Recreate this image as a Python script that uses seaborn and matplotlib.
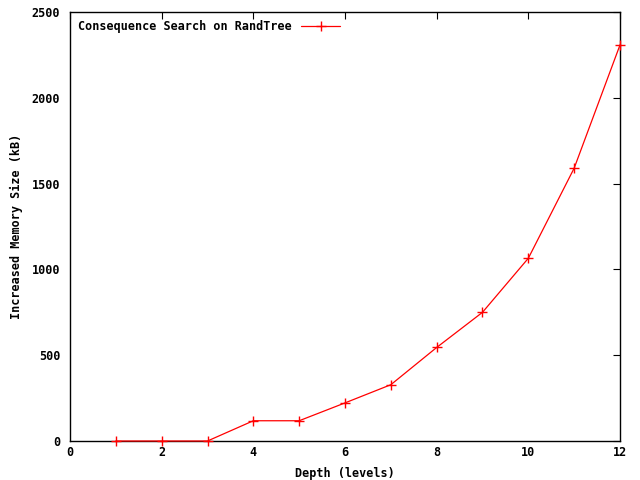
import matplotlib
matplotlib.use("Agg")
import matplotlib.pyplot as plt
import seaborn as sns
import pandas as pd

depth = [1, 2, 3, 4, 5, 6, 7, 8, 9, 10, 11, 12]
memory = [0, 0, 0, 118, 118, 222, 328, 545, 750, 1065, 1590, 2308]
series_label = "Consequence Search on RandTree"
x_ticks = [0, 2, 4, 6, 8, 10, 12]
y_ticks = [0, 500, 1000, 1500, 2000, 2500]

sns.set_style("white")
plt.rcParams['font.family'] = ['DejaVu Sans Mono']
plt.rcParams['font.weight'] = 'bold'
plt.rcParams['text.color'] = 'black'
plt.rcParams['axes.labelcolor'] = 'black'

df = pd.DataFrame({"depth": depth, "memory": memory})

fig = plt.figure(figsize=(6.4, 4.8), dpi=100)
ax = fig.add_axes([70/640, 39/480, 550/640, 429/480])
sns.lineplot(data=df, x="depth", y="memory", ax=ax, color="red", lw=0.9,
             marker="+", markersize=6.5, markeredgewidth=1.0,
             markeredgecolor="red", markerfacecolor="red",
             label=series_label, clip_on=False, zorder=5)

ax.set_xlim(0, 12)
ax.set_ylim(0, 2500)
ax.set_xticks(x_ticks)
ax.set_yticks(y_ticks)
ax.tick_params(direction="in", top=True, right=True, length=5, width=0.8,
               labelsize=8.5, colors="black")
ax.tick_params(axis="y", pad=7)
for lab in ax.get_xticklabels() + ax.get_yticklabels():
    lab.set_fontweight("bold")
for s in ax.spines.values():
    s.set_color("black")
    s.set_linewidth(1.0)
ax.set_xlabel("Depth (levels)", fontsize=8.5, fontweight="bold", color="black", labelpad=6)
ax.set_ylabel("Increased Memory Size (kB)", fontsize=8.5, fontweight="bold", color="black", labelpad=6)
leg = ax.legend(loc="upper left", frameon=False, markerfirst=False,
                prop={"size": 8.5, "weight": "bold"}, handlelength=3.3,
                borderaxespad=0.3)
for t in leg.get_texts():
    t.set_color("black")
fig.savefig("out.png", dpi=100)
